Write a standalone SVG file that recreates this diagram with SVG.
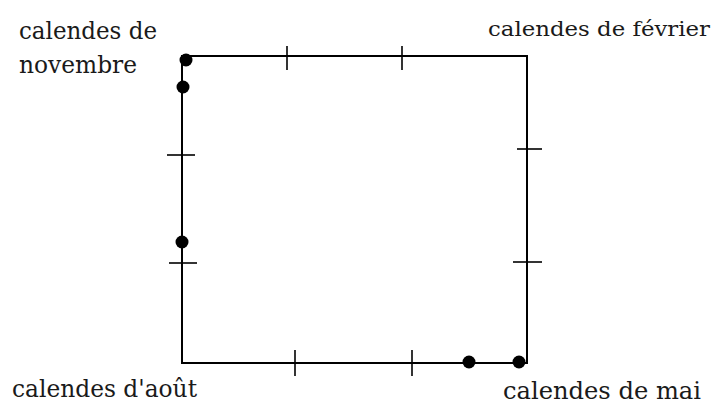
<svg xmlns="http://www.w3.org/2000/svg" width="717" height="405" viewBox="0 0 717 405">
<style>
.ln{stroke:#000;stroke-width:2;fill:none}
.tk{stroke:#000;stroke-width:1.6}
.dot{fill:#000}
.lb{font-family:'DejaVu Serif','Liberation Serif',serif;font-size:24px;fill:#1a1a1a}
</style>
<rect width="717" height="405" fill="#fff"/>
<g id="connectors">
<rect class="ln" x="182" y="56" width="345" height="307"/>
<line class="tk" x1="287" y1="46" x2="287" y2="70"/>
<line class="tk" x1="402" y1="46" x2="402" y2="70"/>
<line class="tk" x1="295" y1="350" x2="295" y2="376"/>
<line class="tk" x1="412" y1="350" x2="412" y2="376"/>
<line class="tk" x1="167" y1="155" x2="195" y2="155"/>
<line class="tk" x1="169" y1="263" x2="197" y2="263"/>
<line class="tk" x1="517" y1="149" x2="542" y2="149"/>
<line class="tk" x1="513" y1="262" x2="542" y2="262"/>
</g>
<g id="dots">
<circle class="dot" cx="186" cy="60" r="6.5"/>
<circle class="dot" cx="183" cy="87" r="6.5"/>
<circle class="dot" cx="182" cy="242" r="6.5"/>
<circle class="dot" cx="469" cy="362" r="6.5"/>
<circle class="dot" cx="519" cy="362" r="6.5"/>
</g>
<g id="novembre">
<text class="lb" x="19" y="39" textLength="138" lengthAdjust="spacingAndGlyphs">calendes de</text>
<text class="lb" x="19" y="73" textLength="118" lengthAdjust="spacingAndGlyphs">novembre</text>
</g>
<g id="fevrier">
<text class="lb" x="488" y="36" style="font-size:21px" textLength="222" lengthAdjust="spacingAndGlyphs">calendes de février</text>
</g>
<g id="aout">
<text class="lb" x="12" y="397" textLength="185" lengthAdjust="spacingAndGlyphs">calendes d'août</text>
</g>
<g id="mai">
<text class="lb" x="503" y="399" textLength="198" lengthAdjust="spacingAndGlyphs">calendes de mai</text>
</g>
</svg>
